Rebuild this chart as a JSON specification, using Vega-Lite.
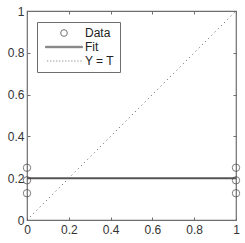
{
  "$schema": "https://vega.github.io/schema/vega-lite/v6.json",
  "width": 209,
  "height": 209,
  "autosize": {"type": "none"},
  "padding": {"left": 27, "top": 11, "right": 9, "bottom": 23},
  "background": "white",
  "config": {
    "view": {"stroke": "#6e6e6e", "strokeWidth": 1.2},
    "axis": {
      "grid": false,
      "domain": false,
      "tickColor": "#6e6e6e",
      "tickSize": -3,
      "labelFont": "Liberation Sans",
      "labelFontSize": 12,
      "labelColor": "#333333",
      "title": null,
      "values": [0, 0.2, 0.4, 0.6, 0.8, 1],
      "labelExpr": "datum.value == 0 ? '0' : datum.value == 1 ? '1' : format(datum.value, '.1f')"
    },
    "axisX": {"labelPadding": 7, "labelFlush": false},
    "axisY": {"labelPadding": 6, "labelFlush": false}
  },
  "datasets": {
    "pts": [
      {"t": 0, "y": 0.25, "series": "Data"},
      {"t": 0, "y": 0.19, "series": "Data"},
      {"t": 0, "y": 0.128, "series": "Data"},
      {"t": 1, "y": 0.25, "series": "Data"},
      {"t": 1, "y": 0.19, "series": "Data"},
      {"t": 1, "y": 0.128, "series": "Data"}
    ],
    "fit": [
      {"t": 0, "y": 0.2},
      {"t": 1, "y": 0.2}
    ],
    "ident": [
      {"t": 0, "y": 0},
      {"t": 1, "y": 1}
    ]
  },
  "layer": [
    {
      "data": {"name": "ident"},
      "mark": {"type": "line", "color": "#555555", "strokeWidth": 1, "strokeDash": [1, 3.5], "clip": true},
      "encoding": {
        "x": {"field": "t", "type": "quantitative", "scale": {"domain": [0, 1], "nice": false, "zero": false}, "axis": {"orient": "bottom"}},
        "y": {"field": "y", "type": "quantitative", "scale": {"domain": [0, 1], "nice": false, "zero": false}, "axis": {"orient": "left"}}
      }
    },
    {
      "data": {"name": "fit"},
      "mark": {"type": "line", "color": "#555555", "strokeWidth": 2},
      "encoding": {
        "x": {"field": "t", "type": "quantitative", "axis": {"orient": "top", "labels": false}},
        "y": {"field": "y", "type": "quantitative", "axis": {"orient": "right", "labels": false}}
      }
    },
    {
      "data": {"name": "pts"},
      "mark": {"type": "point", "filled": false, "size": 55, "strokeWidth": 1, "color": "#444444", "clip": false},
      "encoding": {
        "x": {"field": "t", "type": "quantitative", "axis": null},
        "y": {"field": "y", "type": "quantitative", "axis": null},
        "shape": {
          "field": "series",
          "type": "nominal",
          "scale": {
            "domain": ["Data", "Fit", "Y = T"],
            "range": ["circle", "M-5.5,-0.2H5.5V0.2H-5.5Z", "M-5,0H-4.7M-4.1,0H-3.8M-3.2,0H-2.9M-2.3,0H-2M-1.4,0H-1.1M-0.5,0H-0.2M0.4,0H0.7M1.3,0H1.6M2.2,0H2.5M3.1,0H3.4M4,0H4.3M4.9,0H5.2"]
          },
          "legend": {
            "title": null,
            "orient": "none",
            "legendX": 10,
            "legendY": 11,
            "strokeColor": "#6e6e6e",
            "fillColor": "white",
            "padding": 5,
            "rowPadding": 2,
            "symbolSize": 45,
            "symbolOffset": 16,
            "symbolStrokeWidth": 1,
            "symbolStrokeColor": "#3a3a3a",
            "symbolFillColor": "transparent",
            "labelFont": "Liberation Sans",
            "labelFontSize": 12,
            "labelColor": "#222222",
            "labelOffset": 15
          }
        }
      }
    }
  ],
  "resolve": {"axis": {"x": "independent", "y": "independent"}}
}
